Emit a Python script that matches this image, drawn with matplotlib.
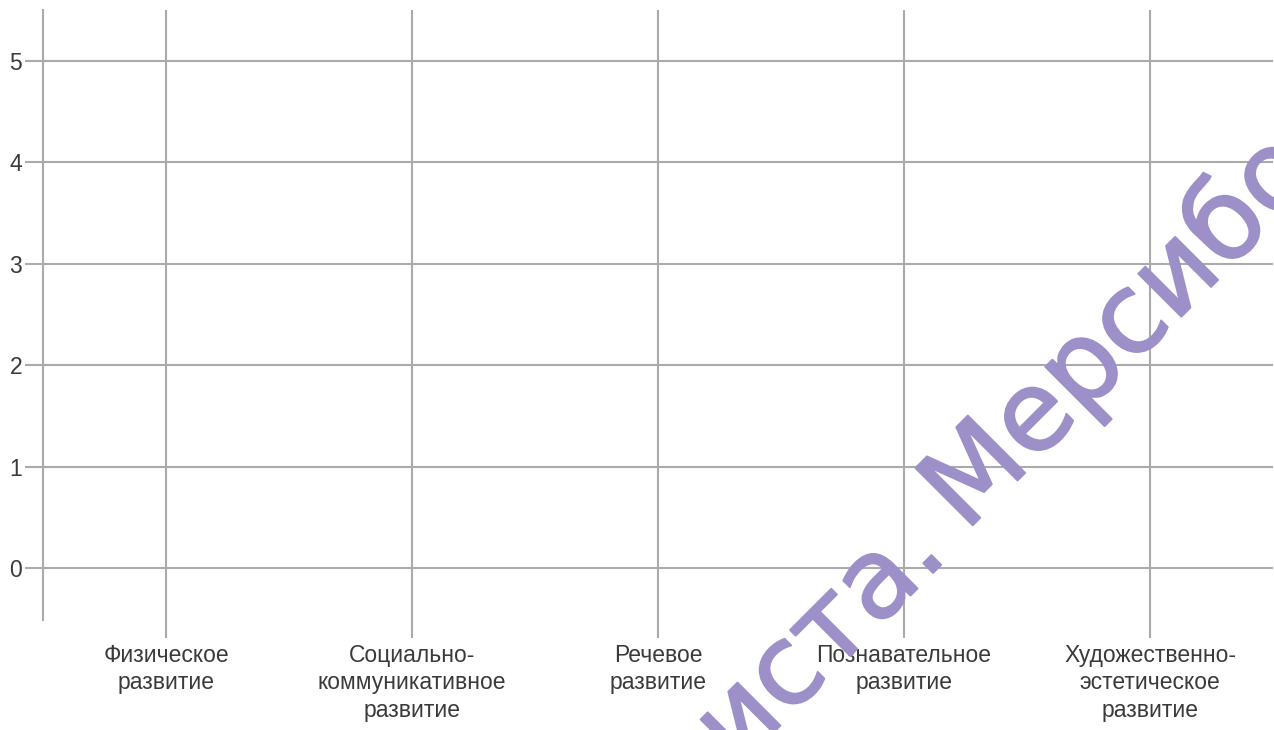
import matplotlib
matplotlib.use("Agg")
import matplotlib.pyplot as plt
import matplotlib.patheffects as pe

categories = ["Физическое\nразвитие",
              "Социально-\nкоммуникативное\nразвитие",
              "Речевое\nразвитие",
              "Познавательное\nразвитие",
              "Художественно-\nэстетическое\nразвитие"]
y_ticks = [0, 1, 2, 3, 4, 5]
watermark_left = "специалиста."
watermark_right = "Мерсибо"

plt.rcParams['font.family'] = ['Liberation Sans', 'DejaVu Sans']

grid_color = "#aaaaaa"
W, H = 1274, 730
fig = plt.figure(figsize=(W / 100, H / 100), dpi=100)
ax = fig.add_axes([43 / W, 1 - 620 / H, (1273 - 43) / W, 610 / H])

ax.set_xlim(-0.5, len(categories) - 0.5)
ax.set_ylim(-0.51, 5.5)
ax.set_xticks(range(len(categories)))
ax.set_xticklabels(categories, multialignment="center", linespacing=1.25)
ax.set_yticks(y_ticks)

for s in ["top", "right", "bottom"]:
    ax.spines[s].set_visible(False)
ax.spines["left"].set_color(grid_color)
ax.spines["left"].set_linewidth(1.5)

ax.grid(True, color=grid_color, linewidth=1.5)
ax.set_axisbelow(True)
ax.tick_params(axis="both", length=13, width=1.5, color=grid_color,
               labelsize=16.5, labelcolor="#3a3a3a")
ax.tick_params(axis="y", pad=2)
ax.tick_params(axis="x", pad=4)

# watermark, placed in pixel coords (y from top)
def px(x, y):
    return x / W, 1 - y / H

wm = "#9d90c8"
kw = dict(fontsize=80, family="DejaVu Sans", color=wm, rotation=45,
          rotation_mode="anchor", va="baseline", transform=fig.transFigure, zorder=10,
          path_effects=[pe.Stroke(linewidth=1.4, foreground=wm)])
fig.text(*px(950, 556), watermark_left, ha="right", **kw)
fig.text(*px(965, 533), watermark_right, ha="left", **kw)

fig.savefig("out.png", dpi=100)
